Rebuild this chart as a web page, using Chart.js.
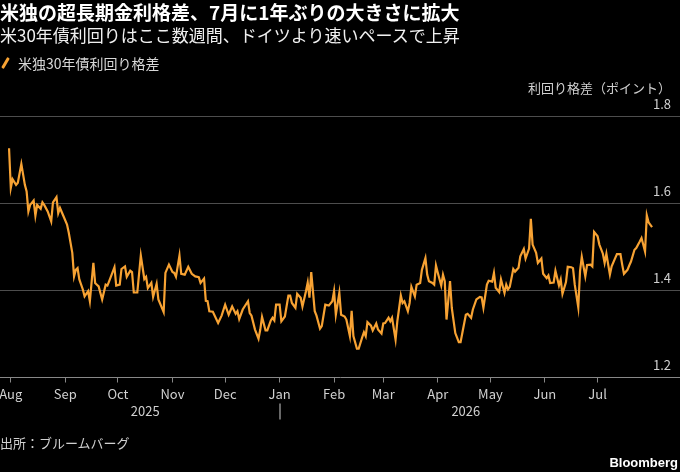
<!DOCTYPE html>
<html>
<head>
<meta charset="utf-8">
<script src="https://cdn.jsdelivr.net/npm/chart.js@4"></script>
<style>
  body { margin: 0; background: #000; }
  #wrap { position: relative; width: 680px; height: 472px; background: #000; overflow: hidden;
          font-family: "Noto Sans CJK JP", "Noto Sans", sans-serif; }
  #wrap canvas { position: absolute; left: 0; top: 0; }
  .txt { position: absolute; line-height: 1.2; white-space: nowrap; }
  #title { left: 0; top: 1px; font-size: 19px; font-weight: bold; color: #fff; }
  #subtitle { left: 0; top: 25px; font-size: 17px; color: #f0f0f0; }
  #legend { left: 18px; top: 55px; font-size: 14px; color: #d8d8d8; }
  #legendIcon { position: absolute; left: 4px; top: 57px; width: 3px; height: 12px; background: #f7a233;
                transform: rotate(30deg); border-radius: 1px; }
  #axisTitle { right: 9px; top: 80px; font-size: 13px; color: #d0d0d0; }
  #source { left: 0; top: 435px; font-size: 13px; color: #d0d0d0; }
  #brand { right: 2px; top: 455px; font-size: 13px; font-weight: bold; color: #fff;
           font-family: "Liberation Sans", Arial, sans-serif; }
</style>
</head>
<body>
<div id="wrap">
  <canvas id="myChart" width="680" height="472"></canvas>
  <div class="txt" id="title">米独の超長期金利格差、7月に1年ぶりの大きさに拡大</div>
  <div class="txt" id="subtitle">米30年債利回りはここ数週間、ドイツより速いペースで上昇</div>
  <span id="legendIcon"></span>
  <div class="txt" id="legend">米独30年債利回り格差</div>
  <div class="txt" id="axisTitle">利回り格差（ポイント）</div>
  <div class="txt" id="source">出所：ブルームバーグ</div>
  <div class="txt" id="brand">Bloomberg</div>
</div>
<script>
// days since 2025-08-01 (trading days)
const days = [
  -1, 0, 1, 3, 4, 6, 8, 9, 10, 11, 13, 14, 15, 17, 18, 19, 21, 23, 24, 26,
  27, 28, 30, 32, 33, 35, 36, 37, 38, 39, 41, 42, 44, 45, 47, 48, 49, 50, 52, 54,
  55, 56, 59, 60, 62, 63, 65, 66, 68, 69, 70, 72, 74, 76, 77, 78, 80, 81, 83, 84,
  87, 88, 90, 92, 93, 94, 96, 97, 99, 101, 103, 105, 107, 108, 110, 111, 112, 113, 115, 118,
  120, 122, 124, 126, 128, 129, 130, 132, 135, 136, 137, 139, 141, 142, 143, 145, 146, 148, 149, 150,
  151, 153, 154, 156, 158, 159, 160, 162, 163, 165, 166, 168, 169, 170, 171, 173, 174, 176, 177, 179,
  181, 183, 184, 185, 187, 188, 190, 191, 193, 194, 195, 197, 198, 200, 201, 202, 203, 205, 206, 208,
  209, 211, 212, 213, 215, 216, 217, 219, 220, 222, 223, 224, 226, 227, 228, 230, 231, 233, 234, 236,
  237, 238, 240, 241, 242, 243, 245, 246, 247, 248, 250, 251, 253, 255, 256, 257, 259, 260, 262, 263,
  265, 267, 268, 269, 271, 272, 274, 275, 276, 278, 279, 281, 282, 283, 284, 286, 287, 289, 290, 292,
  293, 295, 296, 297, 299, 300, 302, 303, 305, 306, 307, 309, 310, 312, 313, 314, 316, 317, 319, 320,
  321, 323, 324, 325, 327, 328, 330, 331, 332, 334, 335, 337, 338, 339, 341, 342, 344, 345, 347, 348,
  349, 351, 352, 353, 355, 356, 358, 359, 361, 362, 363, 365
]

// US minus German 30y yield spread, points
const spread = [
  1.726, 1.635, 1.655, 1.642, 1.647, 1.690, 1.642, 1.627, 1.581, 1.596, 1.606, 1.571, 1.596, 1.587, 1.602, 1.596, 1.581, 1.558, 1.602, 1.614,
  1.577, 1.589, 1.570, 1.551, 1.532, 1.486, 1.432, 1.447, 1.451, 1.425, 1.402, 1.386, 1.398, 1.375, 1.463, 1.417, 1.413, 1.409, 1.379, 1.413,
  1.411, 1.421, 1.453, 1.411, 1.413, 1.449, 1.455, 1.431, 1.445, 1.442, 1.395, 1.395, 1.480, 1.426, 1.431, 1.405, 1.417, 1.385, 1.415, 1.379,
  1.350, 1.440, 1.459, 1.442, 1.440, 1.431, 1.480, 1.438, 1.436, 1.454, 1.438, 1.432, 1.430, 1.417, 1.427, 1.376, 1.375, 1.352, 1.351, 1.325,
  1.342, 1.367, 1.344, 1.363, 1.346, 1.352, 1.334, 1.356, 1.375, 1.348, 1.342, 1.310, 1.289, 1.310, 1.339, 1.308, 1.308, 1.331, 1.337, 1.331,
  1.367, 1.367, 1.329, 1.340, 1.388, 1.388, 1.371, 1.360, 1.392, 1.383, 1.363, 1.398, 1.418, 1.383, 1.442, 1.352, 1.342, 1.312, 1.318, 1.367,
  1.365, 1.375, 1.398, 1.344, 1.394, 1.344, 1.340, 1.333, 1.295, 1.353, 1.295, 1.266, 1.266, 1.292, 1.304, 1.295, 1.327, 1.319, 1.308, 1.324,
  1.310, 1.301, 1.324, 1.325, 1.337, 1.329, 1.337, 1.287, 1.329, 1.388, 1.371, 1.375, 1.352, 1.371, 1.408, 1.386, 1.413, 1.417, 1.447, 1.474,
  1.436, 1.421, 1.417, 1.413, 1.457, 1.441, 1.411, 1.436, 1.421, 1.333, 1.421, 1.360, 1.302, 1.281, 1.281, 1.302, 1.344, 1.346, 1.337, 1.356,
  1.379, 1.385, 1.384, 1.360, 1.413, 1.422, 1.420, 1.440, 1.406, 1.396, 1.425, 1.394, 1.413, 1.402, 1.408, 1.449, 1.443, 1.452, 1.478, 1.495,
  1.473, 1.496, 1.564, 1.505, 1.486, 1.463, 1.473, 1.438, 1.428, 1.434, 1.417, 1.418, 1.445, 1.411, 1.425, 1.392, 1.419, 1.454, 1.453, 1.451,
  1.413, 1.361, 1.444, 1.477, 1.432, 1.458, 1.459, 1.455, 1.534, 1.524, 1.505, 1.484, 1.463, 1.484, 1.436, 1.455, 1.474, 1.483, 1.483, 1.459,
  1.438, 1.447, 1.457, 1.466, 1.493, 1.497, 1.512, 1.520, 1.489, 1.572, 1.556, 1.545
]

const months = ['Aug', 'Sep', 'Oct', 'Nov', 'Dec', 'Jan', 'Feb', 'Mar', 'Apr', 'May', 'Jun', 'Jul']
const years = ['2025', '2026']
const yTicks = [1.2, 1.4, 1.6, 1.8]

const DAY = 86400000
const start = Date.UTC(2025, 7, 1)
const monthDays = months.map((m, i) => (Date.UTC(2025, 7 + i, 1) - start) / DAY)
const yearEnd = (Date.UTC(2026, 0, 1) - start) / DAY   // Jan 1 2026
const lastDay = days[days.length - 1]

const labelColor = '#d0d0d0'
const font = '"Noto Sans CJK JP", "Noto Sans", sans-serif'

// y labels sit above the grid lines at the right edge, years + divider under the months
const extraLabels = {
  id: 'extraLabels',
  afterDraw(chart) {
    const { ctx, chartArea, scales: { x, y } } = chart
    ctx.save()
    ctx.fillStyle = labelColor
    ctx.font = '13px ' + font
    ctx.textBaseline = 'middle'
    ctx.textAlign = 'right'
    yTicks.forEach((v) => {
      ctx.fillText(v.toFixed(1), chartArea.right - 9, y.getPixelForValue(v) - 12)
    })
    ctx.textAlign = 'center'
    const yy = chartArea.bottom + 34
    ctx.fillText(years[0], x.getPixelForValue(yearEnd / 2), yy)
    ctx.fillText(years[1], x.getPixelForValue((yearEnd + lastDay) / 2), yy)
    ctx.fillRect(Math.round(x.getPixelForValue(yearEnd)) - 0.5, yy - 8, 1, 16)
    ctx.restore()
  }
}

const ctx = document.getElementById('myChart').getContext('2d')
const myChart = new Chart(ctx, {
  type: 'line',
  data: {
    datasets: [{
      label: '米独30年債利回り格差',
      data: days.map((d, i) => ({ x: d, y: spread[i] })),
      borderColor: '#f7a233',
      borderWidth: 2.2,
      pointRadius: 0,
      tension: 0,
    }]
  },
  options: {
    responsive: false,
    animation: false,
    layout: { padding: { top: 116, left: 0, right: 0, bottom: 0 }, autoPadding: false },
    plugins: { legend: { display: false }, tooltip: { enabled: false } },
    scales: {
      x: {
        type: 'linear',
        min: -6.15,
        max: 380.9,
        afterBuildTicks: (scale) => { scale.ticks = monthDays.map((v) => ({ value: v })) },
        afterFit: (scale) => { scale.height = 94.5; scale.paddingLeft = 0; scale.paddingRight = 0 },
        grid: { drawOnChartArea: false, drawTicks: true, tickLength: 5, color: '#888' },
        border: { display: true, color: '#888' },
        ticks: {
          color: labelColor,
          font: { size: 13, family: font },
          padding: 4,
          maxRotation: 0,
          autoSkip: false,
          callback: (v, i) => months[i],
        },
      },
      y: {
        position: 'right',
        min: 1.2,
        max: 1.8,
        afterBuildTicks: (scale) => { scale.ticks = yTicks.map((v) => ({ value: v })) },
        afterFit: (scale) => { scale.width = 0; scale.paddingTop = 0; scale.paddingBottom = 0 },
        grid: {
          drawTicks: false,
          color: (c) => (c.tick && c.tick.value === 1.2 ? 'rgba(0,0,0,0)' : '#4d4d4d'),
        },
        border: { display: false },
        ticks: { display: false },
      },
    },
  },
  plugins: [extraLabels],
})
</script>
</body>
</html>
